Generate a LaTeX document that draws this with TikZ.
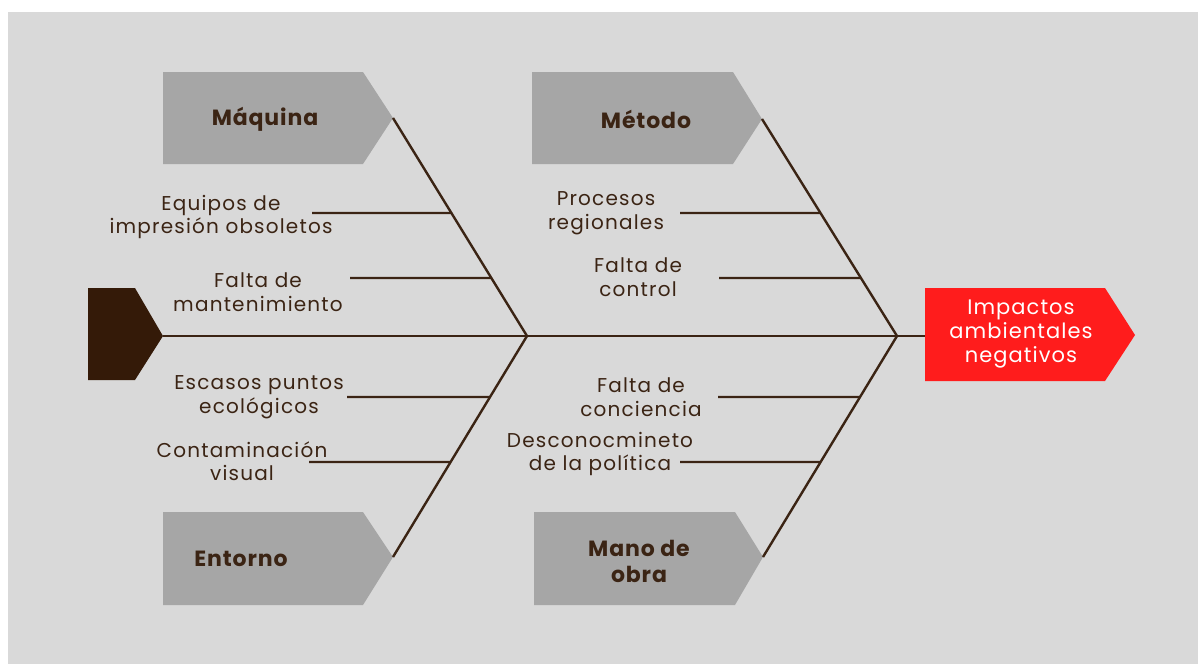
\documentclass[tikz,border=0pt]{standalone}
\usepackage{fontspec}
\setmainfont{Poppins}
\newfontfamily\lblfont{Poppins}[LetterSpace=6]
\newfontfamily\boxfont{Poppins}[LetterSpace=4]
\newfontfamily\headfont{Poppins}[LetterSpace=5]
\usetikzlibrary{calc}
\definecolor{bg}{HTML}{D9D9D9}
\definecolor{boxgray}{HTML}{A6A6A6}
\definecolor{tailbrown}{HTML}{341A08}
\definecolor{bone}{HTML}{3B2414}
\definecolor{txt}{HTML}{3B2414}
\definecolor{headred}{HTML}{FF1C1C}
\begin{document}
\begin{tikzpicture}[x=1pt,y=-1pt,
  bonestyle/.style={draw=bone,line width=2.4pt},
  lbl/.style={font=\lblfont\fontsize{20}{23.5}\selectfont,text=txt,align=center,inner sep=0pt},
  boxlbl/.style={font=\boxfont\bfseries\fontsize{22}{26}\selectfont,text=txt,align=center,inner sep=0pt},
  headlbl/.style={font=\headfont\fontsize{21}{24}\selectfont,text=white,align=center,inner sep=0pt}]
% background
\fill[white] (0,0) rectangle (1198,664);
\fill[bg] (8,12) rectangle (1198,664);
\useasboundingbox (0,0) rectangle (1198,664);

% category boxes
\fill[boxgray] (163,72) -- (363,72) -- (393,118) -- (363,164) -- (163,164) -- cycle;
\coordinate (maqtip) at (393,118);
\fill[boxgray] (532,72) -- (733,72) -- (762,119) -- (733,164) -- (532,164) -- cycle;
\coordinate (mettip) at (762,119);
\fill[boxgray] (163,512) -- (363,512) -- (393,557) -- (363,605) -- (163,605) -- cycle;
\coordinate (enttip) at (393,557);
\fill[boxgray] (534,512) -- (735,512) -- (763,557) -- (735,605) -- (534,605) -- cycle;
\coordinate (mantip) at (763,557);

% tail
\fill[tailbrown] (88,288) -- (135,288) -- (163,336) -- (135,380) -- (88,380) -- cycle;
\coordinate (tailtip) at (163,336);

% head
\fill[headred] (925,288) -- (1105,288) -- (1135,335) -- (1105,381) -- (925,381) -- cycle;
\coordinate (headleft) at (925,336);

% junctions
\coordinate (j1) at (527,336);
\coordinate (j2) at (897,336);

% spine and main bones
\draw[bonestyle] (tailtip) -- (headleft);
\draw[bonestyle] (maqtip) -- (j1);
\draw[bonestyle] (enttip) -- (j1);
\draw[bonestyle] (mettip) -- (j2);
\draw[bonestyle] (mantip) -- (j2);

% sub-bone start points
\coordinate (s1) at (312,213);
\coordinate (s2) at (350,278);
\coordinate (s3) at (347,397);
\coordinate (s4) at (309,462);
\coordinate (s5) at (680,213);
\coordinate (s6) at (719,278);
\coordinate (s7) at (718,397);
\coordinate (s8) at (680,462);

\draw[bonestyle] (s1) -- ($(maqtip)!{(213-118)/218}!(j1)$);
\draw[bonestyle] (s2) -- ($(maqtip)!{(278-118)/218}!(j1)$);
\draw[bonestyle] (s3) -- ($(j1)!{(397-336)/221}!(enttip)$);
\draw[bonestyle] (s4) -- ($(j1)!{(462-336)/221}!(enttip)$);
\draw[bonestyle] (s5) -- ($(mettip)!{(213-119)/217}!(j2)$);
\draw[bonestyle] (s6) -- ($(mettip)!{(278-119)/217}!(j2)$);
\draw[bonestyle] (s7) -- ($(j2)!{(397-336)/221}!(mantip)$);
\draw[bonestyle] (s8) -- ($(j2)!{(462-336)/221}!(mantip)$);

% box labels
\node[boxlbl] (maq) at (265,119) {Máquina};
\node[boxlbl] (met) at (646,119) {Método};
\node[boxlbl] (ent) at (241,559) {Entorno};
\node[boxlbl] (man) at (639,561) {Mano de\\obra};

% head label
\node[headlbl] (head) at (1021,334) {Impactos\\ambientales\\negativos};

% cause labels
\node[lbl] (c1) at (221,217) {Equipos de\\impresión obsoletos};
\node[lbl] (c2) at (258,292) {Falta de\\mantenimiento};
\node[lbl] (c3) at (259,397) {Escasos puntos\\ecológicos};
\node[lbl] (c4) at (242,461) {Contaminación\\visual};
\node[lbl] (c5) at (606,213) {Procesos\\regionales};
\node[lbl] (c6) at (638,277) {Falta de\\control};
\node[lbl] (c7) at (641,397) {Falta de\\conciencia};
\node[lbl] (c8) at (600,454) {Desconocmineto\\de la política};
\end{tikzpicture}
\end{document}
